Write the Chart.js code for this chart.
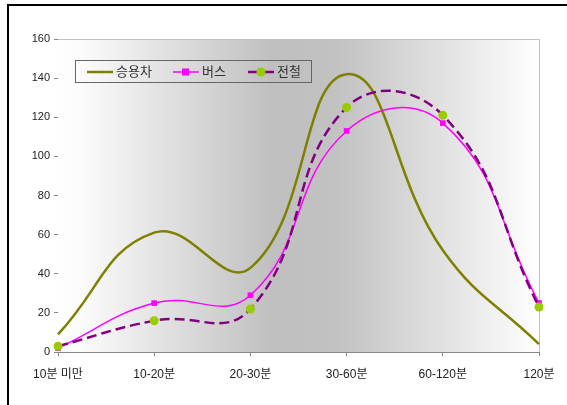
<!DOCTYPE html>
<html>
<head>
<meta charset="utf-8">
<script src="https://cdn.jsdelivr.net/npm/chart.js@4.4.1/dist/chart.umd.min.js"></script>
<style>
    html, body { margin: 0; background: #fff; overflow: hidden; }
    #wrap { position: relative; width: 567px; height: 405px; overflow: hidden; }
    #topLine { position: absolute; left: 7px; top: 4px; width: 560px; height: 2px; background: #000; }
    #leftLine { position: absolute; left: 7px; top: 4px; width: 2px; height: 401px; background: #000; }
    #chart { position: absolute; left: 0; top: 0; }
    #legend { position: absolute; left: 75px; top: 60px; width: 235px; height: 21px; border: 1px solid #666;
        font-family: "Noto Sans CJK KR", "Liberation Sans", sans-serif; font-size: 13px; color: #333; }
    .item { position: absolute; top: 0; height: 21px; line-height: 21px; white-space: nowrap; }
    .item svg { position: absolute; top: 4px; left: 0; }
    .item span { position: absolute; top: -1px; }
</style>
</head>
<body>
<div id="wrap">
    <div id="topLine"></div>
    <div id="leftLine"></div>
    <canvas id="chart" width="567" height="405"></canvas>
    <div id="legend"></div>
</div>
<script>
// categories (x axis)
const categories = ['10분 미만', '10-20분', '20-30분', '30-60분', '60-120분', '120분'];

// series
const carName = '승용차';
const carValues = [9, 61, 43, 142, 52, 4];

const busName = '버스';
const busValues = [2, 25, 29, 113, 117, 25];

const subwayName = '전철';
const subwayValues = [3, 16, 22, 125, 121, 23];

const yTicks = [0, 20, 40, 60, 80, 100, 120, 140, 160];

const olive = '#808000';
const magenta = '#FF00FF';
const purple = '#800080';
const green = '#99CC00';

// gradient background + top/right border of the plot area
const plotBg = {
    id: 'plotBg',
    beforeDatasetsDraw(chart) {
        const { ctx, chartArea: a } = chart;
        const g = ctx.createLinearGradient(a.left, 0, a.right, 0);
        g.addColorStop(0, '#ffffff');
        g.addColorStop(0.05, '#fbfbfb');
        g.addColorStop(0.45, '#bfbfbf');
        g.addColorStop(0.58, '#c2c2c2');
        g.addColorStop(0.95, '#f7f7f7');
        g.addColorStop(1, '#ffffff');
        ctx.save();
        ctx.fillStyle = g;
        ctx.fillRect(a.left, a.top, a.right - a.left, a.bottom - a.top);
        ctx.strokeStyle = '#c0c0c0';
        ctx.lineWidth = 1;
        ctx.beginPath();
        ctx.moveTo(a.left, a.top + 0.5);
        ctx.lineTo(a.right + 0.5, a.top + 0.5);
        ctx.lineTo(a.right + 0.5, a.bottom);
        ctx.stroke();
        ctx.restore();
    }
};

new Chart(document.getElementById('chart'), {
    type: 'line',
    data: {
        labels: categories,
        datasets: [{
            label: carName,
            data: carValues,
            borderColor: olive,
            borderWidth: 2.5,
            pointRadius: 0,
            tension: 0.45,
            order: 3
        }, {
            label: busName,
            data: busValues,
            borderColor: magenta,
            backgroundColor: magenta,
            borderWidth: 1.5,
            pointStyle: 'rect',
            pointRadius: 4,
            pointBorderWidth: 0,
            tension: 0.45,
            order: 2
        }, {
            label: subwayName,
            data: subwayValues,
            borderColor: purple,
            borderWidth: 2.5,
            borderDash: [10, 5],
            pointBackgroundColor: green,
            pointBorderColor: green,
            pointRadius: 4.5,
            pointBorderWidth: 0,
            tension: 0.45,
            order: 1
        }]
    },
    options: {
        responsive: false,
        animation: false,
        layout: { padding: { left: 0, right: 28, top: 39, bottom: 0 } },
        plugins: {
            legend: { display: false },
            tooltip: { enabled: false }
        },
        scales: {
            x: {
                offset: false,
                grid: { display: true, drawOnChartArea: false, tickLength: 4, color: '#888' },
                border: { color: '#888' },
                ticks: {
                    color: '#222', padding: 11, maxRotation: 0, autoSkip: false,
                    font: { family: '"Liberation Sans", "Noto Sans CJK KR"', size: 12 }
                },
                afterFit(scale) { scale.height = 53; }
            },
            y: {
                min: 0,
                max: 160,
                afterBuildTicks(scale) { scale.ticks = yTicks.map(v => ({ value: v })); },
                grid: { display: true, drawOnChartArea: false, tickLength: 4, color: '#888' },
                border: { color: '#888' },
                ticks: {
                    color: '#222', padding: 4,
                    font: { family: '"Liberation Sans", "Noto Sans CJK KR"', size: 11 }
                },
                afterFit(scale) { scale.width = 58; }
            }
        }
    },
    plugins: [plotBg]
});

// legend (html)
const legendItems = [
    { name: carName, line: olive, marker: null, x: 11 },
    { name: busName, line: magenta, marker: 'rect', mColor: magenta, x: 97 },
    { name: subwayName, line: purple, marker: 'circle', mColor: green, x: 172 }
];
const legend = document.getElementById('legend');
legendItems.forEach(it => {
    const d = document.createElement('div');
    d.className = 'item';
    d.style.left = it.x + 'px';
    let m = '';
    if (it.marker === 'rect') m = `<rect x="9" y="3.5" width="7" height="7" fill="${it.mColor}"/>`;
    if (it.marker === 'circle') m = `<circle cx="13" cy="7" r="4.5" fill="${it.mColor}"/>`;
    const w = it.marker === 'rect' ? 1.5 : 2.5;
    d.innerHTML = `<svg width="26" height="14"><line x1="0" y1="7" x2="26" y2="7" stroke="${it.line}" stroke-width="${w}"/>${m}</svg><span style="left:29px">${it.name}</span>`;
    legend.appendChild(d);
});
</script>
</body>
</html>
